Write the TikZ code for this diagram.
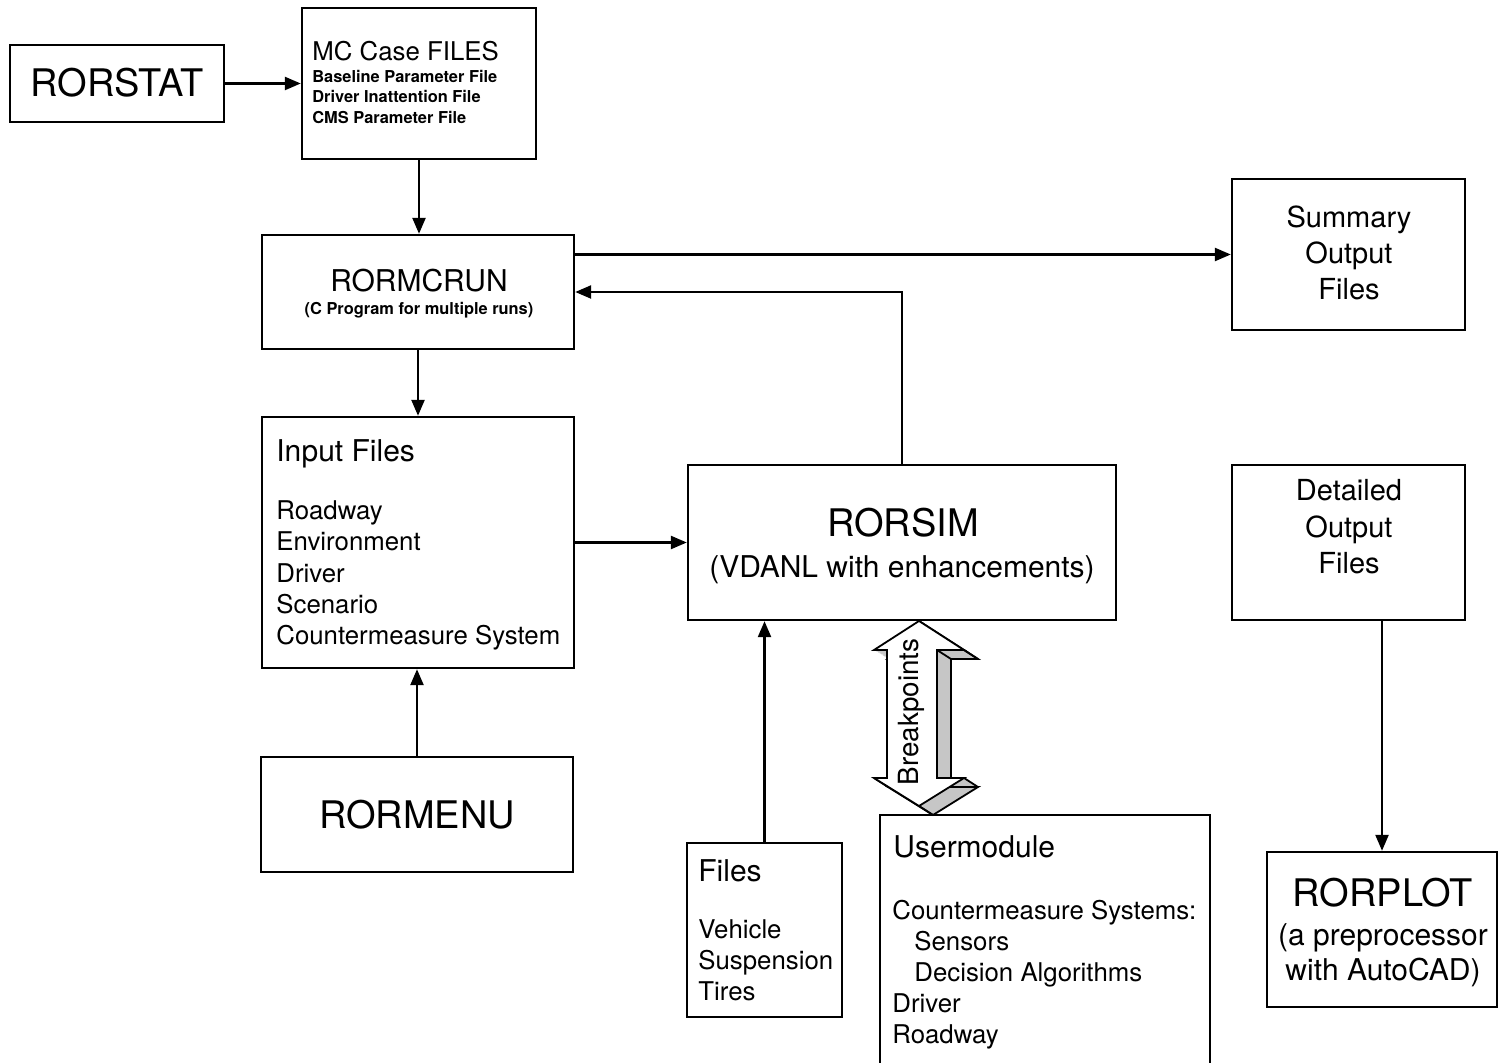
\documentclass[tikz,border=0pt]{standalone}
\usepackage{fontspec}
\setmainfont{TeX Gyre Heros}
\usetikzlibrary{arrows.meta}
\begin{document}
\begin{tikzpicture}[x=0.5pt,y=-0.5pt,
  box/.style={draw,line width=1.2pt,inner sep=0pt,rectangle},
  arr/.style={line width=1.2pt,-{Triangle[length=8pt,width=6.5pt]}},
  txt/.style={inner sep=0pt,anchor=base west},
  ctxt/.style={inner sep=0pt,anchor=base},
  big/.style={font=\fontsize{19}{22}\selectfont},
  mid/.style={font=\fontsize{15}{18}\selectfont},
  sum/.style={font=\fontsize{14.5}{17}\selectfont},
  lst/.style={font=\fontsize{12.9}{15}\selectfont},
  sml/.style={font=\bfseries\fontsize{8.2}{10}\selectfont},
]
\useasboundingbox (0,0) rectangle (1498,1063);
\clip (0,0) rectangle (1498,1063);

% boxes
\node[box,minimum width=107pt,minimum height=38.5pt] (rorstat) at (117,83.5) {};
\node[box,minimum width=117pt,minimum height=75.5pt] (mccase) at (419,83.5) {};
\node[box,minimum width=156pt,minimum height=57pt] (rormcrun) at (418,292) {};
\node[box,minimum width=116.5pt,minimum height=75.5pt] (summary) at (1348.5,254.5) {};
\node[box,minimum width=156pt,minimum height=125.5pt] (input) at (418,542.5) {};
\node[box,minimum width=214pt,minimum height=77.5pt] (rorsim) at (902,542.5) {};
\node[box,minimum width=116.5pt,minimum height=77.5pt] (detailed) at (1348.5,542.5) {};
\node[box,minimum width=156pt,minimum height=57.5pt] (rormenu) at (417,814.5) {};
\node[box,minimum width=77.5pt,minimum height=87pt] (files) at (764.5,930) {};
\node[box,minimum width=165pt,minimum height=132.5pt] (usermod) at (1045,947.5) {};
\node[box,minimum width=115pt,minimum height=77.5pt] (rorplot) at (1382,929.5) {};

% texts
\node[ctxt,big] (trorstat) at (117,97) {RORSTAT};

\node[txt,lst] (tmc) at (312,61) {MC Case FILES};
\node[txt,sml] (tmc1) at (312,83) {Baseline Parameter File};
\node[txt,sml] (tmc2) at (312,103) {Driver Inattention File};
\node[txt,sml] (tmc3) at (312,124) {CMS Parameter File};

\node[ctxt,mid] (trormcrun) at (419,292) {RORMCRUN};
\node[ctxt,sml] (trormcrun2) at (419,315) {(C Program for multiple runs)};

\node[ctxt,sum] (tsum1) at (1349,228) {Summary};
\node[ctxt,sum] (tsum2) at (1349,264) {Output};
\node[ctxt,sum] (tsum3) at (1349,300) {Files};

\node[txt,mid] (tinput) at (276,462) {Input Files};
\node[txt,lst] (tin1) at (276,520) {Roadway};
\node[txt,lst] (tin2) at (276,551) {Environment};
\node[txt,lst] (tin3) at (276,582) {Driver};
\node[txt,lst] (tin4) at (276,613) {Scenario};
\node[txt,lst] (tin5) at (276,644) {Countermeasure System};

\node[ctxt,big] (trorsim) at (903,537) {RORSIM};
\node[ctxt,mid] (trorsim2) at (902,577) {(VDANL with enhancements)};

\node[ctxt,sum] (tdet1) at (1349,501) {Detailed};
\node[ctxt,sum] (tdet2) at (1349,538) {Output};
\node[ctxt,sum] (tdet3) at (1349,574) {Files};

\node[ctxt,big] (trormenu) at (417,828) {RORMENU};

\node[txt,mid] (tfiles) at (698,881) {Files};
\node[txt,lst] (tf1) at (698,938) {Vehicle};
\node[txt,lst] (tf2) at (698,969) {Suspension};
\node[txt,lst] (tf3) at (698,1000) {Tires};

\node[txt,mid] (tuser) at (893,857) {Usermodule};
\node[txt,lst] (tu1) at (892,919) {Countermeasure Systems:};
\node[txt,lst] (tu2) at (914,950) {Sensors};
\node[txt,lst] (tu3) at (914,981) {Decision Algorithms};
\node[txt,lst] (tu4) at (892,1012) {Driver};
\node[txt,lst] (tu5) at (892,1043) {Roadway};

\node[ctxt,big] (trorplot) at (1383,906) {RORPLOT};
\node[ctxt,mid] (trorplot2) at (1383,945) {(a preprocessor};
\node[ctxt,mid] (trorplot3) at (1383,980) {with AutoCAD)};

% connectors
\draw[arr] (rorstat) -- (mccase);
\draw[arr] (mccase.south) -- (mccase.south |- rormcrun.north);
\draw[arr] (summary.west -| rormcrun.east) -- (summary.west);
\draw[arr] (rorsim.north) -- (rorsim.north |- rormcrun.east) -- (rormcrun.east);
\draw[arr] (rormcrun.south) -- (rormcrun.south |- input.north);
\draw[arr] (rormenu.north) -- (rormenu.north |- input.south);
\draw[arr] (input) -- (rorsim);
\draw[arr] (files.north) -- (files.north |- rorsim.south);
\draw[arr] (rorplot.north |- detailed.south) -- (rorplot.north);

% Breakpoints 3D double arrow
\def\bparrow{(919,621) -- (964,650) -- (937,650) -- (937,778) -- (964,778) -- (919,806) -- (874,778) -- (887,778) -- (887,650) -- (874,650) -- cycle}
\foreach \t in {0,1,...,14} {
  \fill[gray!45,shift={(\t,\t*0.64)}] \bparrow;
}
\draw[line width=0.9pt,shift={(14,9)}] \bparrow;
\foreach \p in {(919,621),(964,650),(937,650),(937,778),(964,778),(919,806),(874,778)} {
  \draw[line width=0.9pt] \p -- ++(14,9);
}
\filldraw[fill=white,line width=0.9pt] \bparrow;
\node[ctxt,rotate=90,font=\fontsize{13.9}{16}\selectfont] (tbp) at (918,712) {Breakpoints};
\end{tikzpicture}
\end{document}
